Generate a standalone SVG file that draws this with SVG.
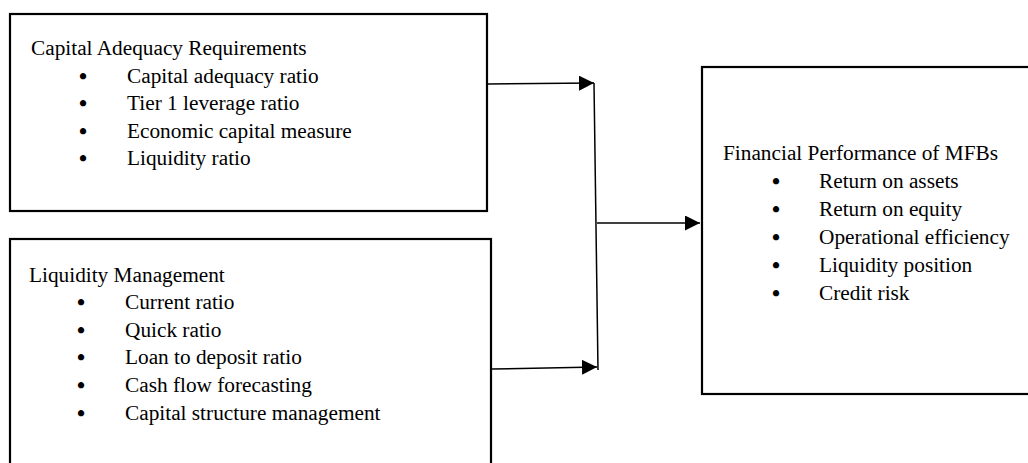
<svg xmlns="http://www.w3.org/2000/svg" width="1028" height="463" viewBox="0 0 1028 463">
<style>
.box{fill:#fff;stroke:#000;stroke-width:2.2}
.t{font-family:"Liberation Serif","Times New Roman",serif;font-size:21.3px;fill:#000}
.b{font-size:23px;font-weight:bold}
.c{stroke:#000;stroke-width:1.5;fill:none}
</style>
<defs>
<marker id="ah" viewBox="0 0 10 10" refX="10" refY="5" markerWidth="15" markerHeight="15" markerUnits="userSpaceOnUse" orient="auto">
<path d="M0,0 L10,5 L0,10 Z" fill="#000"/>
</marker>
</defs>
<rect width="1028" height="463" fill="#fff"/>
<g id="capital">
<rect class="box" x="10" y="14" width="477" height="197"/>
<g class="t">
<text x="31" y="55">Capital Adequacy Requirements</text>
<text x="79" y="83"><tspan class="b" dy="1">•</tspan><tspan x="127" dy="-1">Capital adequacy ratio</tspan></text>
<text x="79" y="110"><tspan class="b" dy="1">•</tspan><tspan x="127" dy="-1">Tier 1 leverage ratio</tspan></text>
<text x="79" y="138"><tspan class="b" dy="1">•</tspan><tspan x="127" dy="-1">Economic capital measure</tspan></text>
<text x="79" y="165"><tspan class="b" dy="1">•</tspan><tspan x="127" dy="-1">Liquidity ratio</tspan></text>
</g>
</g>
<g id="liquidity">
<rect class="box" x="10" y="239" width="481" height="240"/>
<g class="t">
<text x="29" y="282">Liquidity Management</text>
<text x="77" y="309"><tspan class="b" dy="1">•</tspan><tspan x="125" dy="-1">Current ratio</tspan></text>
<text x="77" y="337"><tspan class="b" dy="1">•</tspan><tspan x="125" dy="-1">Quick ratio</tspan></text>
<text x="77" y="364"><tspan class="b" dy="1">•</tspan><tspan x="125" dy="-1">Loan to deposit ratio</tspan></text>
<text x="77" y="392"><tspan class="b" dy="1">•</tspan><tspan x="125" dy="-1">Cash flow forecasting</tspan></text>
<text x="77" y="420"><tspan class="b" dy="1">•</tspan><tspan x="125" dy="-1">Capital structure management</tspan></text>
</g>
</g>
<g id="performance">
<rect class="box" x="702" y="67" width="340" height="327"/>
<g class="t">
<text x="723" y="160">Financial Performance of MFBs</text>
<text x="772" y="188"><tspan class="b" dy="1">•</tspan><tspan x="819" dy="-1">Return on assets</tspan></text>
<text x="772" y="216"><tspan class="b" dy="1">•</tspan><tspan x="819" dy="-1">Return on equity</tspan></text>
<text x="772" y="244"><tspan class="b" dy="1">•</tspan><tspan x="819" dy="-1">Operational efficiency</tspan></text>
<text x="772" y="272"><tspan class="b" dy="1">•</tspan><tspan x="819" dy="-1">Liquidity position</tspan></text>
<text x="772" y="300"><tspan class="b" dy="1">•</tspan><tspan x="819" dy="-1">Credit risk</tspan></text>
</g>
</g>
<g id="connectors">
<line class="c" x1="488" y1="84" x2="594" y2="83" marker-end="url(#ah)"/>
<line class="c" x1="492" y1="369" x2="597" y2="367" marker-end="url(#ah)"/>
<line class="c" x1="594" y1="83" x2="598" y2="370"/>
<line class="c" x1="597" y1="223" x2="700" y2="223" marker-end="url(#ah)"/>
</g>
</svg>
